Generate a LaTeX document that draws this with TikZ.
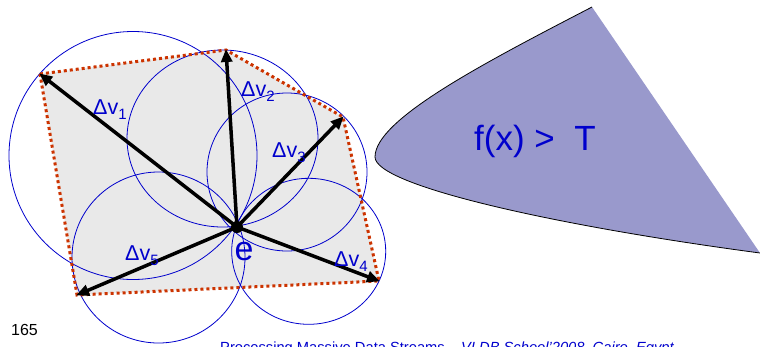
\documentclass[tikz,border=0pt]{standalone}
\usepackage{fontspec}
\setmainfont{Liberation Sans}
\usetikzlibrary{calc,arrows.meta}
\definecolor{txtblue}{RGB}{0,0,204}
\definecolor{circblue}{RGB}{0,0,204}
\definecolor{dotred}{RGB}{204,51,0}
\definecolor{polygray}{RGB}{233,233,233}
\definecolor{regionfill}{RGB}{153,153,204}
\newcommand{\dvlab}[1]{Δv\raisebox{-5.5pt}{\fontsize{15}{15}\selectfont #1}}
\tikzset{
  vecarrow/.style={line width=3.5pt,-{Triangle[length=13pt,width=11pt]},shorten >=-1pt},
  ball/.style={draw=circblue,line width=0.8pt},
  hull/.style={draw=dotred,line width=3pt,dash pattern=on 3pt off 3pt},
  dvlabel/.style={anchor=base west,inner sep=0pt,text=txtblue,font=\fontsize{21.5}{21.5}\selectfont},
}
\begin{document}
\begin{tikzpicture}[x=1pt,y=-1pt]
\useasboundingbox (0,0) rectangle (760,346);
\coordinate (e) at (237,227);
\coordinate (v1) at (40,74);
\coordinate (v2) at (226,50);
\coordinate (v3) at (343,117);
\coordinate (v4) at (379,281);
\coordinate (v5) at (77,295);
% region f(x) > T
\coordinate (rtop) at (592,7);
\coordinate (rtip) at (375,157);
\coordinate (rbot) at (760,253);
\fill[regionfill] (rtop) .. controls (480,65) and (375,120) .. (rtip)
  .. controls (375,185) and (550,225) .. (rbot) -- cycle;
\draw[black,line width=0.8pt] (rtop) .. controls (480,65) and (375,120) .. (rtip)
  .. controls (375,185) and (550,225) .. (rbot);
\node[text=txtblue,font=\fontsize{35}{35}\selectfont,anchor=base west,inner sep=0pt] (ft) at (474,150) {f(x) >\ \ T};
% convex hull
\fill[polygray] (v1) -- (v2) -- (v3) -- (v4) -- (v5) -- cycle;
% balls
\draw[ball] (133,155.5) ellipse [x radius=124, y radius=124];
\draw[ball] (222.5,138.5) ellipse [x radius=95.5, y radius=88.5];
\draw[ball] (287,172) ellipse [x radius=80, y radius=79];
\draw[ball] (308.7,251.3) ellipse [x radius=77, y radius=73];
\draw[ball] (158.5,257.5) ellipse [x radius=86.5, y radius=85.5];
\draw[hull] (v1) -- (v2) -- (v3) -- (v4) -- (v5) -- cycle;
\foreach \v in {v1,v2,v3,v4,v5}{
  \draw[vecarrow] (e) -- (\v);
}
\fill[black] (e) circle [radius=6pt];
\node[dvlabel] (l1) at (93,114) {\dvlab{1}};
\node[dvlabel] (l2) at (241,96) {\dvlab{2}};
\node[dvlabel] (l3) at (272,157) {\dvlab{3}};
\node[dvlabel] (l4) at (334,266) {\dvlab{4}};
\node[dvlabel] (l5) at (125,260) {\dvlab{5}};
\node[text=txtblue,font=\fontsize{34}{34}\selectfont,inner sep=0pt,anchor=base] (el) at (244,260) {e};
\node[anchor=base west,inner sep=0pt,font=\fontsize{16}{16}\selectfont] (pg) at (11,335) {165};
\node[anchor=base west,inner sep=0pt,text=txtblue,font=\fontsize{14.7}{14.7}\selectfont] (foot) at (220,352) {Processing Massive Data Streams – \textit{VLDB School’2008, Cairo, Egypt}};
\end{tikzpicture}
\end{document}
